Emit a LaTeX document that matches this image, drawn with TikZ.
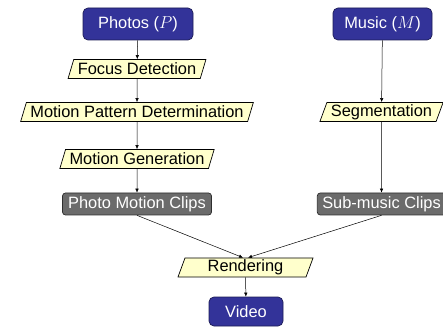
\documentclass[tikz,border=0pt]{standalone}
\usepackage{fontspec}
\setmainfont{Liberation Sans}
\usetikzlibrary{shapes.geometric,arrows.meta,positioning}
\definecolor{srcblue}{HTML}{333399}
\definecolor{srcedge}{HTML}{1C1C55}
\definecolor{clipgray}{HTML}{6B6B6B}
\definecolor{clipedge}{HTML}{2E2E2E}
\definecolor{procyellow}{HTML}{FFFFCC}
\tikzstyle{srcbox} = [rectangle, draw=srcedge, line width=0.7pt, rounded corners=5pt, fill=srcblue,
    text=white, minimum height=32pt, font=\fontsize{16.4}{19}\selectfont]
\tikzstyle{clipbox} = [rectangle, draw=clipedge, line width=0.7pt, rounded corners=3pt, fill=clipgray,
    text=white, minimum height=22pt, inner xsep=5pt, inner ysep=1pt, font=\fontsize{16.4}{19}\selectfont]
\tikzstyle{procbox} = [trapezium, trapezium left angle=68, trapezium right angle=112,
    trapezium stretches body=true, draw=black, line width=0.7pt, fill=procyellow, minimum height=19pt,
    inner xsep=4pt, inner ysep=1pt, font=\fontsize{16.4}{19}\selectfont]
\tikzstyle{arrow} = [-{Latex[length=4pt,width=3.5pt]}, line width=0.5pt, black]

\begin{document}
\begin{tikzpicture}[x=1pt,y=1pt]
\useasboundingbox (0,0) rectangle (443,326);
% photo branch
\node[srcbox, minimum width=110pt] (photos) at (138,302) {Photos ($P$)};
\node[procbox] (focus) at (137,257) {Focus Detection};
\node[procbox] (pattern) at (137,214) {Motion Pattern Determination};
\node[procbox] (motiongen) at (137,167) {Motion Generation};
\node[clipbox, minimum width=149pt] (photoclips) at (137,122) {Photo Motion Clips};
% music branch
\node[srcbox, minimum width=99pt] (music) at (382.5,302) {Music ($M$)};
\node[procbox] (segment) at (381.5,214) {Segmentation};
\node[clipbox, minimum width=124pt] (musicclips) at (381.5,122) {Sub-music Clips};
% output
\node[procbox, minimum width=135pt] (render) at (245.5,58.5) {Rendering};
\node[srcbox, minimum width=74pt, minimum height=29pt] (video) at (246,14.5) {Video};

\draw[arrow] (photos) -- (focus);
\draw[arrow] (focus) -- (pattern);
\draw[arrow] (pattern) -- (motiongen);
\draw[arrow] (motiongen) -- (photoclips);
\draw[arrow] (music) -- (segment);
\draw[arrow] (segment) -- (musicclips);
\draw[arrow] (photoclips.south) -- ([xshift=-2.5pt]render.north);
\draw[arrow] (musicclips.south) -- ([xshift=2.5pt]render.north);
\draw[arrow] (render) -- (video);
\end{tikzpicture}
\end{document}
